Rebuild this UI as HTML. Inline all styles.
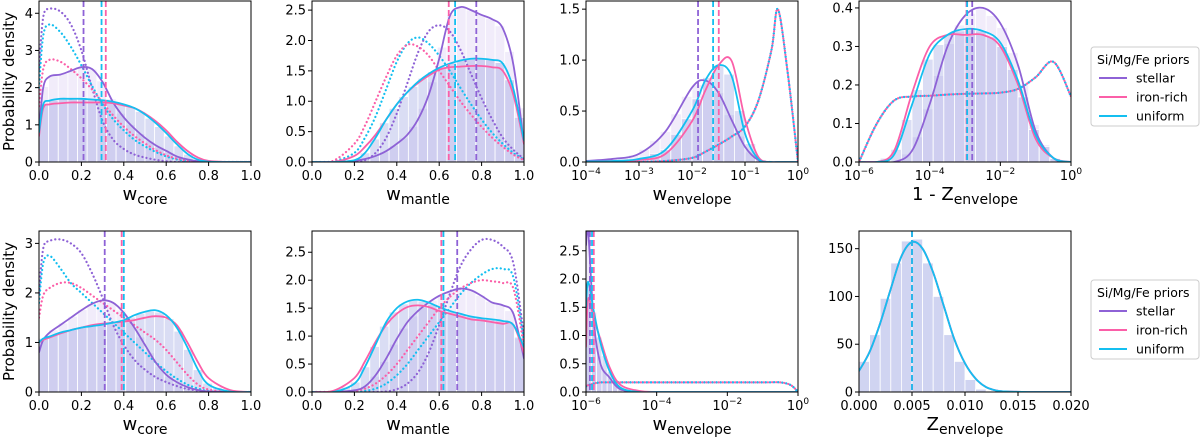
<!DOCTYPE html>
<html><head><meta charset="utf-8"><style>
body{margin:0;background:#fff;}
svg{display:block;font-family:"DejaVu Sans","Liberation Sans",sans-serif;}
</style></head><body>
<svg id="fig" width="1200" height="439" viewBox="0 0 1200 439" xmlns="http://www.w3.org/2000/svg"></svg>
<script>
const C={stellar:'#8e62d6',iron:'#fb5fa8',uniform:'#14bff0'};
// ---- data ----
const gLin=[0,.02,.05,.1,.15,.2,.25,.3,.35,.4,.45,.5,.55,.6,.65,.7,.75,.8,.9,1];
const gMan=[0,.1,.2,.25,.3,.35,.4,.45,.5,.55,.6,.65,.7,.75,.8,.85,.9,.95,1];
const gEnv1=[1e-4,3.16e-4,1e-3,3.16e-3,1e-2,1.78e-2,3.16e-2,5.62e-2,0.1,0.178,0.316,0.417,0.631,1];
const gZ1=[1e-6,3.2e-6,1e-5,3.2e-5,1e-4,3.2e-4,1e-3,3.2e-3,1e-2,3.2e-2,0.1,0.32,1];
const gEnv2=[1e-6,1.15e-6,1.66e-6,2.57e-6,4.57e-6,9.33e-6,3.16e-5,1e-4,1e-3,1e-2,0.1,0.316,0.631,1];
const gZ2=[0,.001,.002,.003,.004,.005,.006,.007,.008,.009,.01,.011,.012,.013,.014,.016,.018,.02];

const p1Stellar=[.8,2.0,2.3,2.35,2.45,2.55,2.5,2.15,1.6,1.2,.9,.65,.45,.3,.15,.07,.02,0,0,0];
const p1Iron=[.7,1.45,1.55,1.58,1.6,1.6,1.6,1.6,1.58,1.52,1.45,1.3,1.1,.85,.55,.3,.12,.03,0,0];
const p1Uniform=[.8,1.55,1.65,1.7,1.7,1.7,1.68,1.66,1.62,1.55,1.45,1.28,1.05,.78,.48,.22,.06,.01,0,0];
const p1StellarPrior=[2.5,3.9,4.12,4.05,3.7,3.0,2.0,1.1,.6,.35,.2,.12,.06,.02,0,0,0,0,0,0];
const p1IronPrior=[1.5,2.5,2.75,2.7,2.5,2.25,1.95,1.6,1.25,.95,.7,.5,.32,.18,.09,.04,.01,0,0,0];
const p1UniformPrior=[2,3.4,3.7,3.5,3.1,2.6,2.05,1.55,1.15,.85,.6,.42,.27,.15,.07,.02,0,0,0,0];
const p1Medians=[.21,.315,.295];

const p2Stellar=[0,0,.02,.05,.1,.18,.3,.45,.7,1.1,1.7,2.4,2.55,2.5,2.42,2.35,2.2,1.6,.3];
const p2Iron=[0,0,.1,.25,.45,.7,.95,1.15,1.3,1.42,1.52,1.56,1.57,1.58,1.58,1.56,1.5,1.1,.3];
const p2Uniform=[0,0,.03,.15,.4,.7,.95,1.15,1.32,1.45,1.55,1.62,1.67,1.7,1.7,1.68,1.62,1.2,.35];
const p2StellarPrior=[0,0,0,.03,.15,.4,.8,1.3,1.8,2.15,2.25,2.15,1.85,1.45,1.05,.7,.4,.2,.05];
const p2IronPrior=[0,.02,.3,.6,1.0,1.4,1.75,1.93,1.9,1.75,1.5,1.25,1.0,.78,.58,.4,.25,.12,.03];
const p2UniformPrior=[0,.01,.15,.4,.75,1.2,1.65,1.95,2.05,1.95,1.75,1.5,1.22,.95,.7,.48,.3,.15,.04];
const p2Medians=[.775,.645,.675];

const p3Stellar=[.01,.03,.08,.3,.73,.8,.68,.41,.15,.02,0,0,0,0];
const p3Iron=[.005,.01,.02,.08,.4,.7,.95,.99,.42,.05,0,0,0,0];
const p3Uniform=[.005,.01,.03,.12,.5,.8,.95,.84,.28,.03,0,0,0,0];
const p3Prior=[0,0,0,.01,.04,.1,.17,.25,.35,.6,1.1,1.5,.9,0];
const p3Medians=[0.013,0.032,0.025];

const p4Stellar=[0,0,0,.03,.15,.3,.38,.4,.36,.25,.08,.01,0];
const p4Iron=[0,0,.03,.18,.3,.33,.33,.33,.3,.2,.06,.01,0];
const p4Uniform=[0,0,.02,.15,.28,.33,.345,.34,.31,.21,.07,.01,0];
const p4Prior=[0,.1,.16,.17,.172,.175,.177,.178,.18,.19,.22,.26,.17];
const p4Medians=[1.6e-3,1.1e-3,1.15e-3];

const p5Stellar=[.8,1.05,1.2,1.35,1.5,1.65,1.78,1.85,1.8,1.6,1.3,.95,.6,.35,.2,.1,.04,.01,0,0];
const p5Iron=[1.0,1.05,1.1,1.18,1.25,1.3,1.35,1.38,1.4,1.42,1.45,1.5,1.53,1.5,1.35,1.0,.6,.28,.04,0];
const p5Uniform=[1.0,1.08,1.12,1.2,1.25,1.3,1.33,1.36,1.4,1.45,1.55,1.62,1.65,1.55,1.3,.9,.45,.15,.01,0];
const p5StellarPrior=[2.0,2.9,3.05,3.08,3.0,2.8,2.4,1.9,1.35,.95,.65,.45,.3,.2,.12,.06,.03,.01,0,0];
const p5IronPrior=[1.5,1.95,2.1,2.2,2.2,2.1,1.95,1.8,1.65,1.5,1.35,1.2,1.05,.85,.6,.35,.15,.05,0,0];
const p5UniformPrior=[1.8,2.6,2.75,2.5,2.2,2.0,1.8,1.6,1.4,1.2,1.0,.8,.6,.42,.27,.15,.07,.02,0,0];
const p5Medians=[.31,.39,.40];

const p6Stellar=[0,0,.03,.1,.3,.6,.95,1.25,1.45,1.6,1.72,1.8,1.85,1.82,1.72,1.6,1.55,1.4,.6];
const p6Iron=[0,.02,.25,.55,.9,1.2,1.4,1.52,1.55,1.52,1.45,1.4,1.35,1.3,1.28,1.25,1.22,1.2,.7];
const p6Uniform=[0,0,.15,.45,.85,1.25,1.5,1.62,1.65,1.6,1.52,1.45,1.4,1.35,1.32,1.3,1.27,1.2,.8];
const p6StellarPrior=[0,0,0,0,0,.01,.05,.15,.35,.7,1.2,1.75,2.25,2.55,2.72,2.72,2.6,2.3,1.0];
const p6IronPrior=[0,0,.02,.06,.15,.3,.5,.75,1.0,1.25,1.5,1.7,1.85,1.95,2.0,1.98,1.95,1.85,.8];
const p6UniformPrior=[0,0,0,.02,.06,.15,.3,.5,.75,1.0,1.25,1.5,1.75,1.95,2.1,2.2,2.2,2.05,.9];
const p6Medians=[.685,.61,.62];

const p7Stellar=[2.6,2.85,1.24,.5,.26,.05,0,0,0,0,0,0,0,0];
const p7Iron=[0.8,1.65,1.3,.93,.45,.13,.02,0,0,0,0,0,0,0];
const p7Uniform=[1.5,1.95,1.43,.87,.38,.08,0,0,0,0,0,0,0,0];
const p7Prior=[.1,.12,.15,.17,.17,.17,.17,.17,.17,.17,.17,.17,.12,0];
const p7Medians=[1.29e-6,1.66e-6,1.48e-6];

const p8Curve=[22,42,72,108,142,157,150,125,90,55,30,14,5,1.5,.5,0,0,0];
const p8Hist=[32,60,98,135,158,160,135,100,60,32,13,3,1,0,0,0,0,0,0,0];
const p8Medians=[.005,.005,.005];

// ---- rendering ----
const svg=document.getElementById('fig');
const NS='http://www.w3.org/2000/svg';
function el(tag,attrs,parent){const e=document.createElementNS(NS,tag);for(const k in attrs)e.setAttribute(k,attrs[k]);(parent||svg).appendChild(e);return e;}
function smooth(pts){let d='M'+pts[0][0].toFixed(2)+','+pts[0][1].toFixed(2);
 for(let i=0;i<pts.length-1;i++){const p0=pts[Math.max(0,i-1)],p1=pts[i],p2=pts[i+1],p3=pts[Math.min(pts.length-1,i+2)];
  const c1=[p1[0]+(p2[0]-p0[0])/6,p1[1]+(p2[1]-p0[1])/6],c2=[p2[0]-(p3[0]-p1[0])/6,p2[1]-(p3[1]-p1[1])/6];
  d+='C'+c1.map(v=>v.toFixed(2))+' '+c2.map(v=>v.toFixed(2))+' '+p2[0].toFixed(2)+','+p2[1].toFixed(2);}
 return d;}
function interp(xs,ys,x,log){const t=log?Math.log10:(v=>v);const tx=t(x);
 for(let i=0;i<xs.length-1;i++){const a=t(xs[i]),b=t(xs[i+1]);if(tx>=a&&tx<=b)return ys[i]+(ys[i+1]-ys[i])*(tx-a)/(b-a);}return 0;}
const W=212;
function panel(cfg){
 const {x0,y0,h,xmin,xmax,ymax,log,name}=cfg;
 const g=el('g',{});
 
 
 const sx=v=>x0+(log?(Math.log10(v)-Math.log10(xmin))/(Math.log10(xmax)-Math.log10(xmin)):(v-xmin)/(xmax-xmin))*W;
 const sy=v=>y0+h-Math.min(v,ymax*1.2)/ymax*h;
 const cp=el('clipPath',{id:'c'+name},g);el('rect',{x:x0,y:y0,width:W,height:h},cp);
 const inner=el('g',{'clip-path':'url(#c'+name+')'},g);
 (cfg.hists||[]).forEach(hs=>{
  const n=hs.bins;
  for(let i=0;i<n;i++){
   let a,b;
   if(log){const la=Math.log10(hs.from),lb=Math.log10(hs.to);a=Math.pow(10,la+(lb-la)*i/n);b=Math.pow(10,la+(lb-la)*(i+1)/n);}
   else{a=hs.from+(hs.to-hs.from)*i/n;b=hs.from+(hs.to-hs.from)*(i+1)/n;}
   const v=hs.values?hs.values[i]:interp(hs.xs,hs.ys,log?Math.sqrt(a*b):(a+b)/2,log);
   if(v<=0)continue;
   const r=el('rect',{x:sx(a),y:sy(v),width:Math.max(0,sx(b)-sx(a)),height:y0+h-sy(v),fill:hs.color,'fill-opacity':hs.op,stroke:'#fff','stroke-width':0.8},inner);
   
   
  }
 });
 cfg.curves.forEach(c=>{
  const pts=c.xs.map((x,i)=>[sx(x),sy(c.ys[i])]);
  const p=el('path',{d:smooth(pts),fill:'none',stroke:c.color,'stroke-width':c.dot?2.2:1.8,'stroke-dasharray':c.dot?'0.1 4':'none','stroke-dashoffset':c.off||0,'stroke-linecap':'round'},inner);
  
  
 });
 const mc=[C.stellar,C.iron,C.uniform];
 cfg.medians.forEach((m,i)=>{
  const l=el('line',{x1:sx(m),x2:sx(m),y1:y0,y2:y0+h,stroke:mc[i],'stroke-width':1.8,'stroke-dasharray':'6 3'},inner);
  
  
 });
 el('rect',{x:x0,y:y0,width:W,height:h,fill:'none',stroke:'#000','stroke-width':1},g);
 cfg.xticks.forEach(t=>{
  const X=sx(t.v);el('line',{x1:X,x2:X,y1:y0+h,y2:y0+h+4,stroke:'#000'},g);
  const tx=el('text',{x:X,y:y0+h+18,'font-size':13,'text-anchor':'middle'},g);
  if(t.e!==undefined){tx.textContent='10';const s=el('tspan',{'font-size':9,dy:-6},tx);s.textContent=t.e;}else tx.textContent=t.l;
  
  
 });
 cfg.yticks.forEach(t=>{
  const Y=sy(t.v);el('line',{x1:x0-4,x2:x0,y1:Y,y2:Y,stroke:'#000'},g);
  const tx=el('text',{x:x0-6,y:Y+4.5,'font-size':13,'text-anchor':'end'},g);tx.textContent=t.l;
  
  
 });
 const xl=el('text',{x:x0+W/2,y:y0+h+38,'font-size':18,'text-anchor':'middle'},g);
 
 
 const m=el('tspan',{},xl);m.textContent=cfg.xlabel[0];
 const sub=el('tspan',{'font-size':14,dy:4},xl);sub.textContent=cfg.xlabel[1];
}
function lin(vals,dec){return vals.map(v=>({v:v,l:v.toFixed(dec)}));}
function logt(es){return es.map(e=>({v:Math.pow(10,e),e:(e<0?'\u2212'+(-e):''+e)}));}
function three(g,a,b,c,da,db,dc,shared){const r=[{xs:g,ys:a,color:C.stellar,label:'stellar-posterior'},{xs:g,ys:b,color:C.iron,label:'iron-rich-posterior'},{xs:g,ys:c,color:C.uniform,label:'uniform-posterior'}];
 if(da){r.unshift({xs:g,ys:da,color:C.stellar,dot:1,label:'stellar-prior'},{xs:g,ys:dc,color:C.uniform,dot:1,label:'uniform-prior'},{xs:g,ys:db,color:C.iron,dot:1,off:shared?2:0,label:'iron-rich-prior'});}
 return r;}
function hists(g,a,c,from,to,bins){return [{xs:g,ys:a,color:C.stellar,op:.12,from,to,bins},{xs:g,ys:c,color:'#5565cc',op:.22,from,to,bins}];}
const X=[39,312,586,859],T1=1,T2=231,H=161;
const xl01=lin([0,.2,.4,.6,.8,1],1);
panel({name:'panel-wcore-top',x0:X[0],y0:T1,h:H,xmin:0,xmax:1,ymax:4.33,xticks:xl01,yticks:lin([0,1,2,3,4],0),xlabel:['w','core'],
 hists:hists(gLin,p1Stellar,p1Uniform,0,1,22),curves:three(gLin,p1Stellar,p1Iron,p1Uniform,p1StellarPrior,p1IronPrior,p1UniformPrior),medians:p1Medians});
panel({name:'panel-wmantle-top',x0:X[1],y0:T1,h:H,xmin:0,xmax:1,ymax:2.65,xticks:xl01,yticks:lin([0,.5,1,1.5,2,2.5],1),xlabel:['w','mantle'],
 hists:hists(gMan,p2Stellar,p2Uniform,0,1,22),curves:three(gMan,p2Stellar,p2Iron,p2Uniform,p2StellarPrior,p2IronPrior,p2UniformPrior),medians:p2Medians});
panel({name:'panel-wenvelope-top',x0:X[2],y0:T1,h:H,xmin:1e-4,xmax:1,ymax:1.58,log:1,xticks:logt([-4,-3,-2,-1,0]),yticks:lin([0,.5,1,1.5],1),xlabel:['w','envelope'],
 hists:hists(gEnv1,p3Stellar,p3Uniform,1e-4,1,20),curves:three(gEnv1,p3Stellar,p3Iron,p3Uniform,p3Prior,p3Prior,p3Prior,1),medians:p3Medians});
panel({name:'panel-1-zenvelope-top',x0:X[3],y0:T1,h:H,xmin:1e-6,xmax:1,ymax:0.418,log:1,xticks:logt([-6,-4,-2,0]),yticks:lin([0,.1,.2,.3,.4],1),xlabel:['1 - Z','envelope'],
 hists:hists(gZ1,p4Stellar,p4Uniform,1e-6,1,20),curves:three(gZ1,p4Stellar,p4Iron,p4Uniform,p4Prior,p4Prior,p4Prior,1),medians:p4Medians});
panel({name:'panel-wcore-bottom',x0:X[0],y0:T2,h:H,xmin:0,xmax:1,ymax:3.25,xticks:xl01,yticks:lin([0,1,2,3],0),xlabel:['w','core'],
 hists:hists(gLin,p5Stellar,p5Uniform,0,1,22),curves:three(gLin,p5Stellar,p5Iron,p5Uniform,p5StellarPrior,p5IronPrior,p5UniformPrior),medians:p5Medians});
panel({name:'panel-wmantle-bottom',x0:X[1],y0:T2,h:H,xmin:0,xmax:1,ymax:2.88,xticks:xl01,yticks:lin([0,.5,1,1.5,2,2.5],1),xlabel:['w','mantle'],
 hists:hists(gMan,p6Stellar,p6Uniform,0,1,22),curves:three(gMan,p6Stellar,p6Iron,p6Uniform,p6StellarPrior,p6IronPrior,p6UniformPrior),medians:p6Medians});
panel({name:'panel-wenvelope-bottom',x0:X[2],y0:T2,h:H,xmin:1e-6,xmax:1,ymax:2.85,log:1,xticks:logt([-6,-4,-2,0]),yticks:lin([0,.5,1,1.5,2,2.5],1),xlabel:['w','envelope'],
 hists:hists(gEnv2,p7Stellar,p7Uniform,1e-6,1,40),curves:three(gEnv2,p7Stellar,p7Iron,p7Uniform,p7Prior,p7Prior,p7Prior,1),medians:p7Medians});
panel({name:'panel-zenvelope-bottom',x0:X[3],y0:T2,h:H,xmin:0,xmax:.02,ymax:168.5,xticks:lin([0,.005,.01,.015,.02],3),yticks:lin([0,50,100,150],0),xlabel:['Z','envelope'],
 hists:[{values:p8Hist,color:'#5565cc',op:.28,from:0,to:.02,bins:20}],
 curves:[{xs:gZ2,ys:p8Curve,color:C.stellar,label:'stellar-posterior'},{xs:gZ2,ys:p8Curve,color:C.iron,label:'iron-rich-posterior'},{xs:gZ2,ys:p8Curve,color:C.uniform,label:'uniform-posterior'}],medians:p8Medians});
[T1,T2].forEach(t=>{const yl=el('text',{x:0,y:0,'font-size':15,'text-anchor':'middle',transform:'translate(14,'+(t+H/2)+') rotate(-90)'});yl.textContent='Probability density';
 
 });
[[47],[280]].forEach(([ly])=>{
 const g=el('g',{});
 
 
 el('rect',{x:1091,y:ly,width:108,height:79,rx:3,fill:'#fff',stroke:'#ccc'},g);
 const t=el('text',{x:1097,y:ly+17,'font-size':12.5},g);t.textContent='Si/Mg/Fe priors';
 [['stellar',C.stellar],['iron-rich',C.iron],['uniform',C.uniform]].forEach((e,i)=>{
  const yy=ly+31+i*19;
  const le=el('g',{},g);
  
  
  el('line',{x1:1099,x2:1127,y1:yy,y2:yy,stroke:e[1],'stroke-width':2},le);
  const tx=el('text',{x:1136,y:yy+4.5,'font-size':12.5},le);tx.textContent=e[0];
 });
});
</script>
</body></html>
